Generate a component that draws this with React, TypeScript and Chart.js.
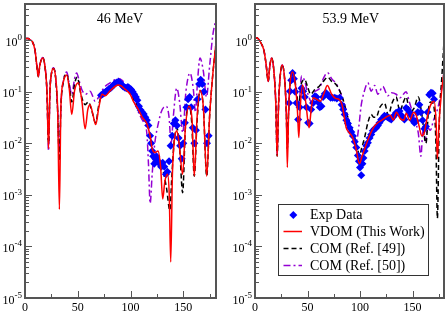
import React, { useEffect, useRef } from "react";
import { Chart, registerables } from "chart.js";
Chart.register(...registerables);

// ---------- 46 MeV panel ----------
const ANG_46_VDOM = [0,3,5,7,9.5,11.5,12.6,14,16.8,18.8,20.8,22.3,23.6,25,26.9,29,31,32.6,34,36.5,39.5,42,44.3,47,50.6,54,57,59.5,61.7,64.5,67,70,73,76,80,84,88,91,94,97,100,103,107.5,111,115.4,118.6,120.5,123.3,126,128.5,130.5,132.5,135,136.7,138.1,139.7,141.5,143.8,146,149.4,152,155.4,158.3,160.4,163,165.8,169,172.2,175,178,181];
const VAL_46_VDOM = [1.07,1.07,1.0,0.93,0.63,0.28,0.195,0.32,0.45,0.32,0.1,0.0079,0.1,0.22,0.28,0.19,0.04,0.00052,0.05,0.16,0.21,0.11,0.036,0.105,0.148,0.063,0.019,0.045,0.056,0.035,0.023,0.05,0.089,0.083,0.1,0.12,0.135,0.13,0.115,0.102,0.087,0.063,0.045,0.032,0.024,0.0138,0.0079,0.0066,0.0071,0.0035,0.00083,0.0018,0.0025,0.001,0.00005,0.0025,0.0112,0.0174,0.01,0.0025,0.02,0.052,0.028,0.0023,0.03,0.105,0.05,0.0023,0.035,0.22,0.87];

const ANG_46_COM49 = [0,3,5,7,9.5,11.5,12.6,14,16.8,18.8,20.8,22.3,23.6,25,26.9,29,31,32.6,34,36.5,39.5,42,44.5,47,49.5,53,57,60,63,67,70,73,76,80,84,88,91,94,97,100,103,107.5,111,115.4,118.6,121,124,126,128.5,131,134,137.3,139,141.2,144,146.5,149.4,152,155.4,158,160.4,163,165.8,169,172.2,175,178,181];
const VAL_46_COM49 = [1.07,1.07,1.0,0.93,0.63,0.28,0.195,0.32,0.45,0.32,0.1,0.01,0.1,0.22,0.28,0.19,0.04,0.0045,0.05,0.16,0.22,0.126,0.063,0.141,0.19,0.089,0.056,0.063,0.045,0.025,0.056,0.089,0.093,0.105,0.126,0.138,0.135,0.12,0.11,0.093,0.071,0.05,0.035,0.026,0.014,0.0071,0.005,0.0056,0.004,0.0028,0.0014,0.0005,0.002,0.01,0.02,0.0079,0.0011,0.02,0.054,0.025,0.0023,0.025,0.105,0.05,0.0023,0.035,0.22,0.85];

const ANG_46_COM50 = [0,3,5,7,9.5,11.5,12.6,14,16.8,18.8,20.8,22.3,23.6,25,26.9,29,31,32.6,34,36.5,39.5,42,44.3,47,49,51.5,53.8,57.5,61.7,64,66.4,68.5,71,75,80.6,85,88.6,92,96,99.6,104,109,113,115.4,117,118.6,120.5,123,126.5,129,131.5,134,136.5,138.5,140.5,143.8,146.5,149.5,152.5,156.4,159.5,161.5,163.5,165.8,169,172,175,178,180.5];
const VAL_46_COM50 = [1.07,1.07,1.0,0.93,0.63,0.28,0.195,0.32,0.46,0.32,0.1,0.0071,0.1,0.22,0.29,0.19,0.04,0.005,0.05,0.166,0.24,0.141,0.089,0.178,0.23,0.158,0.11,0.089,0.102,0.083,0.065,0.071,0.087,0.12,0.148,0.17,0.18,0.166,0.132,0.093,0.06,0.034,0.024,0.016,0.004,0.00068,0.0025,0.01,0.025,0.04,0.05,0.052,0.032,0.01,0.032,0.117,0.063,0.016,0.1,0.23,0.112,0.04,0.158,0.45,0.25,0.079,0.32,1.26,2.3];

const ANG_46_EXP = [72,73.5,75,76.5,78,79.5,81,82.5,84,85.5,87,88.5,90,91.5,93,94.5,96,97.5,99,100.5,102,103.5,105,106.5,108,109.5,111,112.5,114,115.5,117,118.5,119.5,120.5,121.5,122.5,123.5,124.5,126,127.5,129,130.5,132,133.5,135,136.5,138,139.5,141,142.5,144,145.5,147,148.5,150,151.5,153,154.5,156,157.5,159,160.5,162,163.5,165,166.5,168,169.5,171,172.5,174];
const VAL_46_EXP = [0.085,0.089,0.095,0.1,0.105,0.112,0.117,0.126,0.135,0.145,0.151,0.155,0.148,0.138,0.126,0.12,0.117,0.123,0.117,0.11,0.1,0.089,0.079,0.068,0.052,0.044,0.04,0.037,0.032,0.028,0.022,0.014,0.01,0.0071,0.0056,0.004,0.005,0.0056,0.0045,0.004,0.0035,0.0042,0.0035,0.0025,0.0028,0.0045,0.0089,0.014,0.024,0.028,0.022,0.0126,0.0089,0.005,0.01,0.025,0.05,0.071,0.079,0.05,0.02,0.01,0.0178,0.071,0.141,0.17,0.141,0.1,0.045,0.01,0.014];

// ---------- 53.9 MeV panel ----------
const ANG_54_VDOM = [0,2.8,6.3,8.5,10.5,12.6,14,15.8,18,19.8,21.1,22.5,24,25.9,28.4,29.8,30.8,32,33.5,35.7,38.9,40.5,41.7,43,45.2,48.3,51.5,53.5,55.4,58.8,62.1,65.5,68.9,73,76.8,80,82.9,86.9,90,93.2,96.2,99.5,101.9,104.2,109,112.8,116.8,120.8,124.8,129,131.7,134.6,138.4,141.7,144,147.3,151.1,153.5,156.4,158.7,161.1,164.4,167.4,170.6,172.5,173.7,175.3,177.7,180];
const VAL_54_VDOM = [1.12,1.07,0.83,0.63,0.35,0.158,0.3,0.45,0.25,0.06,0.0056,0.06,0.2,0.33,0.158,0.04,0.0034,0.04,0.15,0.24,0.112,0.04,0.0129,0.045,0.135,0.063,0.02,0.045,0.076,0.071,0.065,0.09,0.132,0.089,0.074,0.071,0.056,0.02,0.0158,0.0126,0.0079,0.004,0.0056,0.0076,0.0138,0.02,0.025,0.028,0.032,0.035,0.028,0.04,0.03,0.028,0.038,0.028,0.04,0.035,0.021,0.014,0.0158,0.035,0.056,0.065,0.025,0.005,0.025,0.1,0.24];

const ANG_54_COM49 = [0,2.8,6.3,8.5,10.5,12.6,14,15.8,18,19.8,21.1,22.5,24,25.9,28.4,29.8,30.8,32,33.5,35.7,38.9,41.7,44,47.4,50,53,57,61,65,69.3,73,77.5,80.5,83.8,87,90.1,94.9,97.5,99.6,101.5,104.4,107.5,110.7,113,115.4,119,123.3,127,130.5,134.4,138,141,143.9,147.5,151.5,155.5,159,162.8,165.5,167.5,170,172.3,173.7,175.5,178,180];
const VAL_54_COM49 = [1.12,1.07,0.83,0.63,0.35,0.158,0.3,0.45,0.25,0.06,0.0056,0.06,0.2,0.33,0.158,0.04,0.0079,0.04,0.15,0.24,0.126,0.052,0.141,0.17,0.126,0.089,0.11,0.126,0.158,0.19,0.158,0.135,0.105,0.071,0.04,0.025,0.0129,0.0079,0.0058,0.0079,0.0129,0.025,0.036,0.032,0.032,0.05,0.06,0.035,0.06,0.079,0.042,0.06,0.079,0.04,0.048,0.079,0.035,0.01,0.05,0.063,0.056,0.01,0.00035,0.025,0.2,0.93];

const ANG_54_COM50 = [0,2.8,6.3,8.5,10.5,12.6,14,15.8,18,19.8,21.1,22.5,24,25.9,28.4,29.8,30.8,32,33.5,35.7,38.9,41.7,44.3,47.4,50.5,53.8,57,61,65,69,73,77.5,82,86,90,93,96.5,99,101,104,107.5,110.7,113.9,117,121.7,126.5,130,134.4,138,143.9,147,150,153,155.5,158,160,162,164.4,167,170,173,176,178.5,180];
const VAL_54_COM50 = [1.12,1.07,0.83,0.63,0.35,0.158,0.3,0.45,0.25,0.06,0.0063,0.06,0.2,0.33,0.158,0.04,0.0079,0.04,0.15,0.25,0.132,0.05,0.2,0.158,0.089,0.063,0.1,0.112,0.178,0.234,0.178,0.141,0.089,0.05,0.025,0.0158,0.011,0.022,0.052,0.1,0.148,0.102,0.132,0.089,0.126,0.083,0.095,0.089,0.076,0.1,0.063,0.04,0.025,0.0158,0.0056,0.0178,0.0112,0.02,0.0178,0.028,0.04,0.071,0.141,0.24];

const ANG_54_EXP = [32.5,33.3,34.5,35.8,37,38.3,39.5,41.1,42.5,44.3,45.9,47.4,49,50.6,52,53.5,55.3,57,58.5,60,61.7,63.3,64.8,66.5,68,70,72,74,76,78,80.6,82.5,84,85.4,87,88.5,90.1,91.7,93.3,95,96.5,98,99,100,101.2,102.3,103.3,104.4,106,107.5,109.1,110.7,112.2,114,115.4,117,118.6,120.2,121.7,123.3,125,126.5,128,129.7,131.3,132.8,134.4,136,137.6,139.2,140.7,142.3,143.9,145.5,147,148.6,150.2,151.8,153.4,155,156.5,158,159.6,161.3,162.8,164.4,166,167.6,169.2,170.5];
const VAL_54_EXP = [0.06,0.102,0.166,0.23,0.178,0.1,0.06,0.029,0.05,0.117,0.102,0.079,0.05,0.025,0.024,0.045,0.06,0.081,0.079,0.063,0.05,0.052,0.079,0.091,0.093,0.083,0.076,0.076,0.076,0.074,0.076,0.056,0.045,0.036,0.028,0.024,0.02,0.0166,0.0138,0.0107,0.0083,0.0058,0.0045,0.0034,0.0024,0.004,0.0052,0.0071,0.0089,0.0102,0.0126,0.0148,0.0174,0.019,0.02,0.022,0.025,0.029,0.03,0.034,0.033,0.032,0.03,0.029,0.032,0.035,0.039,0.04,0.042,0.035,0.032,0.029,0.048,0.045,0.04,0.035,0.028,0.025,0.027,0.04,0.056,0.04,0.028,0.019,0.021,0.04,0.087,0.095,0.093,0.071];

// ---------- axes / text ----------
const Y_MIN = 1e-5;
const Y_MAX = 5;
const Y_EXPONENTS = [-5, -4, -3, -2, -1, 0];
const X_MAJOR = [0, 50, 100, 150];
const X_MINOR = [25, 75, 125, 175];
const LEGEND_LABELS = ["Exp Data", "VDOM (This Work)", "COM (Ref. [49])", "COM (Ref. [50])"];
const SERIF = '"Liberation Serif", "Times New Roman", serif';

const RED = "#ff0000";
const BLUE = "#0000ff";
const BLACK = "#000000";
const PURPLE = "#9400d3";

function pts(a: number[], v: number[]) {
  const n = Math.min(a.length, v.length);
  const out: { x: number; y: number }[] = [];
  for (let i = 0; i < n; i++) out.push({ x: a[i], y: v[i] });
  return out;
}

function framePlugin(title: string, titleX: number, legend: boolean) {
  return {
    id: "frame",
    afterDraw(chart: any) {
      const { ctx, chartArea: a, scales } = chart;
      const xs = scales.x;
      const ys = scales.y;
      ctx.save();
      // ticks
      ctx.strokeStyle = "#555";
      ctx.lineWidth = 1;
      ctx.beginPath();
      for (const e of Y_EXPONENTS) {
        const y = Math.round(ys.getPixelForValue(Math.pow(10, e))) + 0.5;
        ctx.moveTo(a.left, y);
        ctx.lineTo(a.left + 7, y);
        for (let k = 2; k <= 9; k++) {
          const v = k * Math.pow(10, e);
          if (v > Y_MAX) break;
          const yy = Math.round(ys.getPixelForValue(v)) + 0.5;
          ctx.moveTo(a.left, yy);
          ctx.lineTo(a.left + 4, yy);
        }
      }
      for (const v of X_MAJOR) {
        const x = Math.round(xs.getPixelForValue(v)) + 0.5;
        ctx.moveTo(x, a.bottom);
        ctx.lineTo(x, a.bottom - 7);
      }
      for (const v of X_MINOR) {
        const x = Math.round(xs.getPixelForValue(v)) + 0.5;
        ctx.moveTo(x, a.bottom);
        ctx.lineTo(x, a.bottom - 4);
      }
      ctx.stroke();
      // frame
      ctx.lineWidth = 2;
      ctx.strokeStyle = "#555";
      ctx.strokeRect(a.left, a.top, a.right - a.left, a.bottom - a.top);

      // y labels 10^e
      ctx.fillStyle = "#000";
      ctx.textBaseline = "alphabetic";
      ctx.textAlign = "left";
      for (const e of Y_EXPONENTS) {
        const y = ys.getPixelForValue(Math.pow(10, e));
        const exp = e === 0 ? "0" : "-" + Math.abs(e);
        ctx.font = `9px ${SERIF}`;
        const ew = ctx.measureText(exp).width;
        ctx.font = `12px ${SERIF}`;
        const bw = ctx.measureText("10").width;
        const right = a.left - 3;
        ctx.fillText("10", right - ew - bw, y + 5.5);
        ctx.font = `9px ${SERIF}`;
        ctx.fillText(exp, right - ew, y);
      }
      // x labels
      ctx.textAlign = "center";
      ctx.font = `12px ${SERIF}`;
      for (const v of X_MAJOR) {
        ctx.fillText(String(v), xs.getPixelForValue(v), a.bottom + 13);
      }
      // title
      ctx.font = `14px ${SERIF}`;
      ctx.fillText(title, titleX, 23);

      if (legend) {
        const bx = 54.5, by = 204.5, bw = 150, bh = 71;
        ctx.fillStyle = "#fff";
        ctx.fillRect(bx, by, bw, bh);
        ctx.strokeStyle = "#333";
        ctx.lineWidth = 1;
        ctx.strokeRect(bx, by, bw, bh);
        const baselines = [219, 236, 253, 270];
        ctx.font = `14px ${SERIF}`;
        ctx.textAlign = "left";
        ctx.fillStyle = "#000";
        LEGEND_LABELS.forEach((t, i) => ctx.fillText(t, 86, baselines[i]));
        // diamond
        const dx = 69.3, dy = baselines[0] - 4;
        ctx.fillStyle = BLUE;
        ctx.beginPath();
        ctx.moveTo(dx, dy - 4);
        ctx.lineTo(dx + 4, dy);
        ctx.lineTo(dx, dy + 4);
        ctx.lineTo(dx - 4, dy);
        ctx.closePath();
        ctx.fill();
        const styles: [string, number[]][] = [
          [RED, []],
          [BLACK, [5, 3]],
          [PURPLE, [7, 3, 2, 3]],
        ];
        styles.forEach(([c, d], i) => {
          const y = baselines[i + 1] - 4.5;
          ctx.strokeStyle = c;
          ctx.lineWidth = 1.5;
          ctx.setLineDash(d);
          ctx.beginPath();
          ctx.moveTo(59.5, y);
          ctx.lineTo(78, y);
          ctx.stroke();
        });
        ctx.setLineDash([]);
      }
      ctx.restore();
    },
  };
}

function buildConfig(
  vdom: { x: number; y: number }[],
  com49: { x: number; y: number }[],
  com50: { x: number; y: number }[],
  exp: { x: number; y: number }[],
  pad: { left: number; right: number },
  xMax: number,
  title: string,
  titleX: number,
  legend: boolean
): any {
  return {
    type: "line",
    data: {
      datasets: [
        {
          label: LEGEND_LABELS[1],
          data: vdom,
          borderColor: RED,
          borderWidth: 1.5,
          pointRadius: 0,
          cubicInterpolationMode: "monotone",
          fill: false,
          order: 0,
        },
        {
          label: LEGEND_LABELS[0],
          data: exp,
          showLine: false,
          pointStyle: "rectRot",
          pointRadius: 4,
          pointBackgroundColor: BLUE,
          pointBorderColor: BLUE,
          pointBorderWidth: 0,
          order: 1,
        },
        {
          label: LEGEND_LABELS[2],
          data: com49,
          borderColor: BLACK,
          borderWidth: 1.5,
          borderDash: [5, 3],
          pointRadius: 0,
          cubicInterpolationMode: "monotone",
          fill: false,
          order: 2,
        },
        {
          label: LEGEND_LABELS[3],
          data: com50,
          borderColor: PURPLE,
          borderWidth: 1.5,
          borderDash: [7, 3, 2, 3],
          pointRadius: 0,
          cubicInterpolationMode: "monotone",
          fill: false,
          order: 3,
        },
      ],
    },
    options: {
      responsive: false,
      animation: false,
      devicePixelRatio: 1,
      events: [],
      layout: { padding: { left: pad.left, right: pad.right, top: 2, bottom: 15 } },
      plugins: {
        legend: { display: false },
        tooltip: { enabled: false },
        title: { display: false },
      },
      scales: {
        x: { type: "linear", min: 0, max: xMax, display: false },
        y: { type: "logarithmic", min: Y_MIN, max: Y_MAX, display: false },
      },
    },
    plugins: [framePlugin(title, titleX, legend)],
  };
}

export default function App() {
  const leftRef = useRef<HTMLCanvasElement>(null);
  const rightRef = useRef<HTMLCanvasElement>(null);

  useEffect(() => {
    const c1 = new Chart(
      leftRef.current as HTMLCanvasElement,
      buildConfig(
        pts(ANG_46_VDOM, VAL_46_VDOM),
        pts(ANG_46_COM49, VAL_46_COM49),
        pts(ANG_46_COM50, VAL_46_COM50),
        pts(ANG_46_EXP, VAL_46_EXP),
        { left: 25, right: 8 },
        181,
        "46 MeV",
        120,
        false
      )
    );
    const c2 = new Chart(
      rightRef.current as HTMLCanvasElement,
      buildConfig(
        pts(ANG_54_VDOM, VAL_54_VDOM),
        pts(ANG_54_COM49, VAL_54_COM49),
        pts(ANG_54_COM50, VAL_54_COM50),
        pts(ANG_54_EXP, VAL_54_EXP),
        { left: 31, right: 3 },
        180,
        "53.9 MeV",
        126.8,
        true
      )
    );
    return () => {
      c1.destroy();
      c2.destroy();
    };
  }, []);

  return (
    <div style={{ position: "fixed", left: 0, top: 0, width: 448, height: 313, background: "#fff", overflow: "hidden" }}>
      <canvas ref={leftRef} width={224} height={313} style={{ position: "absolute", left: 0, top: 0, width: 224, height: 313 }} />
      <canvas ref={rightRef} width={224} height={313} style={{ position: "absolute", left: 224, top: 0, width: 224, height: 313 }} />
    </div>
  );
}
